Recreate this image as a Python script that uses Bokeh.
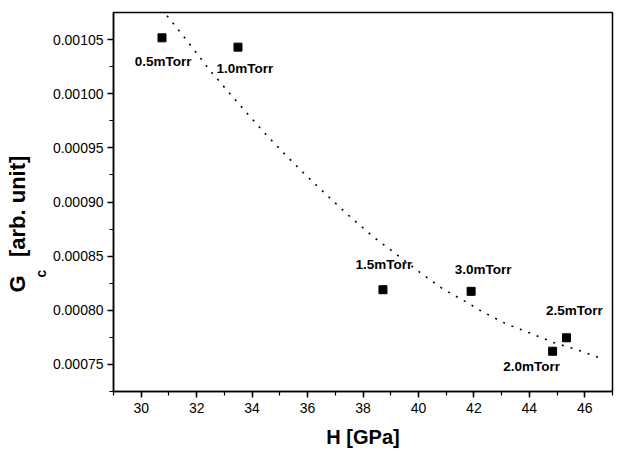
from bokeh.plotting import figure
from bokeh.models import Title, ColumnDataSource, NumeralTickFormatter, Range1d, SingleIntervalTicker
from bokeh.core.properties import value
from bokeh.embed import file_html
from bokeh.resources import INLINE

# ---- data ----
pressure_labels = ["0.5mTorr", "1.0mTorr", "1.5mTorr", "3.0mTorr", "2.0mTorr", "2.5mTorr"]
hardness = [30.75, 33.49, 38.72, 41.90, 44.84, 45.34]
gc_values = [0.0010516, 0.0010430, 0.0008190, 0.0008175, 0.0007622, 0.0007746]

fit_h = [30.93, 31.62, 32.51, 33.49, 34.50, 35.31, 35.85, 36.69, 37.53, 38.36,
         40.04, 40.88, 41.78, 42.32, 43.16, 44.00, 44.90, 45.80, 46.60]
fit_gc = [0.0010721, 0.0010500, 0.0010206, 0.0009914, 0.0009623, 0.0009408, 0.0009270,
          0.0009064, 0.0008865, 0.0008681, 0.0008353, 0.0008197, 0.0008068, 0.0007985,
          0.0007875, 0.0007792, 0.0007700, 0.0007629, 0.0007555]

# ---- layout (pixel offsets of the point labels) ----
label_dx = [1, 7, 1, 12, -21, 8]
label_dy = [24, 21, -25, -22, 15, -27]

FONT = "Liberation Sans"
H = 450

p = figure(width=617, height=H, output_backend="svg", toolbar_location=None,
           x_range=Range1d(29, 47), y_range=Range1d(0.000725, 0.001075),
           min_border_left=113, min_border_right=5, min_border_top=12, min_border_bottom=58)
p.grid.visible = False
p.background_fill_color = "white"
p.border_fill_color = "white"
p.outline_line_color = "black"
p.outline_line_width = 1.5

# axes
p.xaxis.ticker = SingleIntervalTicker(interval=2, num_minor_ticks=2)
p.yaxis.ticker = SingleIntervalTicker(interval=0.00005, num_minor_ticks=2)
p.yaxis.formatter = NumeralTickFormatter(format="0.00000")
for ax in (p.xaxis[0], p.yaxis[0]):
    ax.axis_line_color = "black"
    ax.axis_line_width = 1.5
    ax.major_tick_line_color = "black"
    ax.major_tick_line_width = 1.5
    ax.minor_tick_line_color = "black"
    ax.minor_tick_line_width = 1.2
    ax.major_tick_in = 0
    ax.major_tick_out = 6
    ax.minor_tick_in = 0
    ax.minor_tick_out = 4
    ax.major_label_text_font = FONT
    ax.major_label_text_font_size = "14px"
    ax.major_label_text_color = "black"
p.xaxis.major_label_standoff = 5
p.yaxis.major_label_standoff = 4

p.xaxis.axis_label = "H [GPa]"
p.xaxis.axis_label_text_font = FONT
p.xaxis.axis_label_text_font_style = "bold"
p.xaxis.axis_label_text_font_size = "20px"
p.xaxis.axis_label_text_color = "black"
p.xaxis.axis_label_standoff = 10

# fit curve (dotted)
p.line(fit_h, fit_gc, line_color="black", line_width=1.6, line_dash="2 7")

# data points
src = ColumnDataSource(dict(x=hardness, y=gc_values, t=pressure_labels,
                            dx=label_dx, dy=label_dy))
p.scatter("x", "y", source=src, marker="square", size=8, color="black")
p.text("x", "y", text="t", source=src, x_offset="dx", y_offset="dy",
       text_align="center", text_baseline="middle",
       text_font=value(FONT), text_font_style="bold", text_font_size="13.5px",
       text_color="black")

# y axis label: G_c [arb. unit] built from two titles in the left panel
sub_c = Title(text="c", align="left", offset=114, standoff=2,
              text_font=FONT, text_font_style="bold", text_font_size="14px", text_color="black")
main_g = Title(text="G\u00a0\u00a0\u00a0[arb. unit]", align="left", offset=99, standoff=0,
               text_font=FONT, text_font_style="bold", text_font_size="22px", text_color="black")
p.add_layout(sub_c, "left")
p.add_layout(main_g, "left")

open("out.html", "w").write(file_html(p, INLINE))
